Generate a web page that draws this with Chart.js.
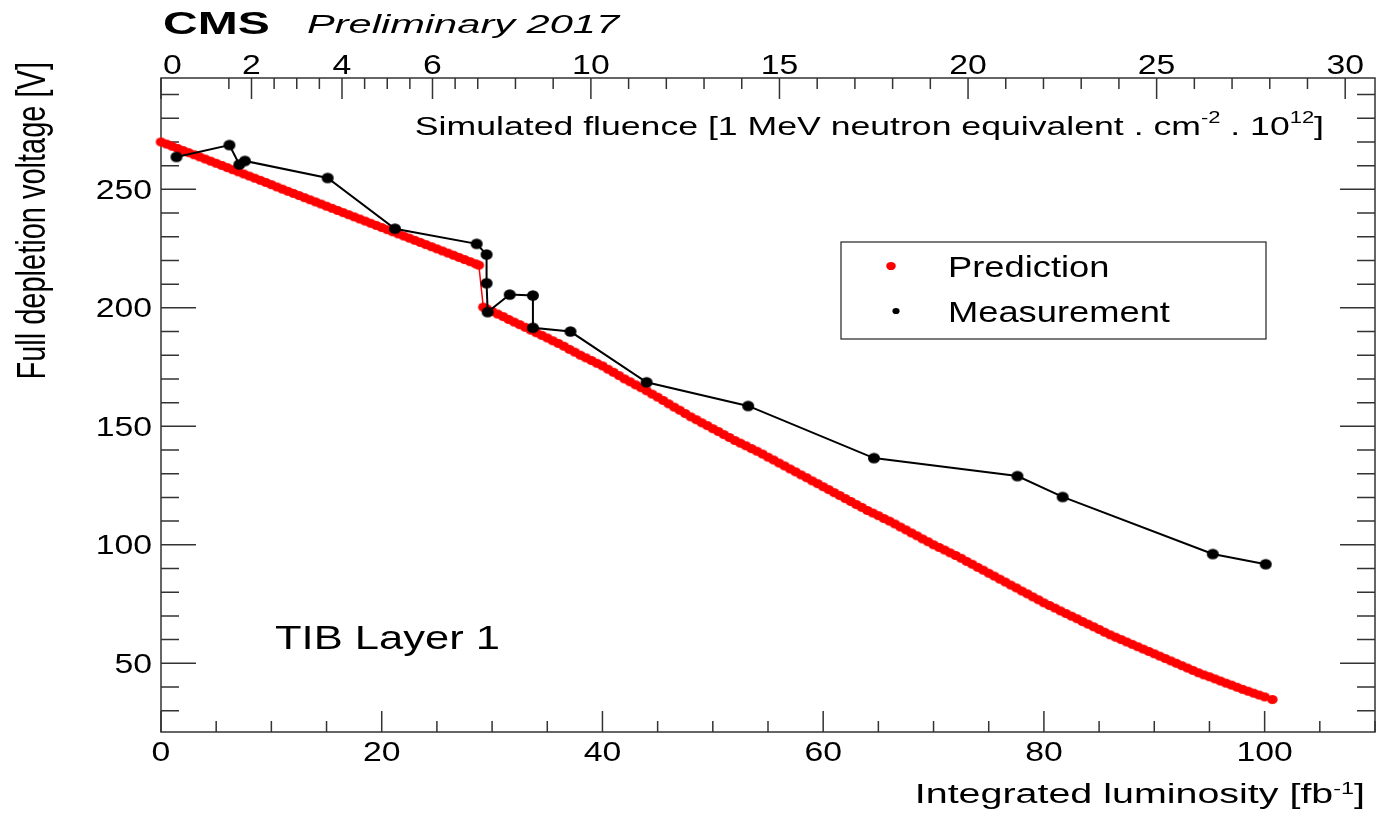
<!DOCTYPE html>
<html>
<head>
<meta charset="utf-8">
<script src="https://cdn.jsdelivr.net/npm/chart.js@4"></script>
<style>
  body { margin: 0; background: #fff; }
  #plot { display: block; width: 1381px; height: 813px; }
</style>
</head>
<body>
<canvas id="plot" width="1381" height="813"></canvas>
<script>
// Predicted full depletion voltage vs integrated luminosity (Run 1, then Run 2 after annealing)
const predLumi = [
  0.0, 0.5, 1.0, 1.5, 2.0, 2.5, 3.0, 3.5,
  4.0, 4.5, 5.0, 5.5, 6.0, 6.5, 7.0, 7.5,
  8.0, 8.5, 9.0, 9.5, 10.0, 10.5, 11.0, 11.5,
  12.0, 12.5, 13.0, 13.5, 14.0, 14.5, 15.0, 15.5,
  16.0, 16.5, 17.0, 17.5, 18.0, 18.5, 19.0, 19.5,
  20.0, 20.5, 21.0, 21.5, 22.0, 22.5, 23.0, 23.5,
  24.0, 24.5, 25.0, 25.5, 26.0, 26.5, 27.0, 27.5,
  28.0, 28.5, 28.8,
  29.2, 29.5,
  30.0, 30.5, 31.0, 31.5, 32.0, 32.5, 33.0, 33.5,
  34.0, 34.5, 35.0, 35.5, 36.0, 36.5, 37.0, 37.5,
  38.0, 38.5, 39.0, 39.5, 40.0, 40.5, 41.0, 41.5,
  42.0, 42.5, 43.0, 43.5, 44.0, 44.5, 45.0, 45.5,
  46.0, 46.5, 47.0, 47.5, 48.0, 48.5, 49.0, 49.5,
  50.0, 50.5, 51.0, 51.5, 52.0, 52.5, 53.0, 53.5,
  54.0, 54.5, 55.0, 55.5, 56.0, 56.5, 57.0, 57.5,
  58.0, 58.5, 59.0, 59.5, 60.0, 60.5, 61.0, 61.5,
  62.0, 62.5, 63.0, 63.5, 64.0, 64.5, 65.0, 65.5,
  66.0, 66.5, 67.0, 67.5, 68.0, 68.5, 69.0, 69.5,
  70.0, 70.5, 71.0, 71.5, 72.0, 72.5, 73.0, 73.5,
  74.0, 74.5, 75.0, 75.5, 76.0, 76.5, 77.0, 77.5,
  78.0, 78.5, 79.0, 79.5, 80.0, 80.5, 81.0, 81.5,
  82.0, 82.5, 83.0, 83.5, 84.0, 84.5, 85.0, 85.5,
  86.0, 86.5, 87.0, 87.5, 88.0, 88.5, 89.0, 89.5,
  90.0, 90.5, 91.0, 91.5, 92.0, 92.5, 93.0, 93.5,
  94.0, 94.5, 95.0, 95.5, 96.0, 96.5, 97.0, 97.5,
  98.0, 98.5, 99.0, 99.5,
  100.0, 100.7
];
const predVolt = [
  270.0, 269.1, 268.2, 267.3, 266.4, 265.5, 264.6, 263.7,
  262.8, 261.9, 261.0, 260.1, 259.2, 258.3, 257.4, 256.5,
  255.6, 254.7, 253.8, 252.9, 252.0, 251.0, 250.1, 249.2,
  248.3, 247.4, 246.5, 245.6, 244.7, 243.8, 242.9, 242.0,
  241.1, 240.2, 239.3, 238.4, 237.5, 236.6, 235.7, 234.8,
  233.9, 233.0, 232.1, 231.2, 230.3, 229.4, 228.5, 227.6,
  226.7, 225.8, 224.9, 224.0, 223.1, 222.2, 221.3, 220.4,
  219.5, 218.6, 218.0,
  200.3, 199.6,
  198.5, 197.4, 196.3, 195.1, 194.0, 192.9, 191.8, 190.6,
  189.5, 188.4, 187.3, 186.1, 185.0, 183.8, 182.5, 181.3,
  180.0, 178.9, 177.8, 176.6, 175.5, 174.1, 172.8, 171.4,
  170.0, 168.8, 167.5, 166.3, 165.0, 163.6, 162.3, 160.9,
  159.5, 158.1, 156.8, 155.4, 154.0, 152.8, 151.5, 150.3,
  149.0, 147.8, 146.5, 145.3, 144.0, 142.9, 141.8, 140.6,
  139.5, 138.3, 137.0, 135.8, 134.5, 133.3, 132.0, 130.8,
  129.5, 128.3, 127.0, 125.8, 124.5, 123.3, 122.0, 120.8,
  119.5, 118.3, 117.0, 115.8, 114.5, 113.4, 112.3, 111.1,
  110.0, 108.8, 107.5, 106.3, 105.0, 103.8, 102.5, 101.3,
  100.0, 98.9, 97.8, 96.6, 95.5, 94.3, 93.0, 91.8,
  90.5, 89.3, 88.0, 86.8, 85.5, 84.3, 83.0, 81.8,
  80.5, 79.3, 78.0, 76.8, 75.5, 74.4, 73.3, 72.1,
  71.0, 69.9, 68.8, 67.6, 66.5, 65.4, 64.3, 63.1,
  62.0, 61.0, 60.0, 59.0, 58.0, 57.0, 56.0, 55.0,
  54.0, 53.0, 52.0, 51.0, 50.0, 49.0, 48.0, 47.0,
  46.0, 45.1, 44.3, 43.4, 42.5, 41.6, 40.8, 39.9,
  39.0, 38.2, 37.4, 36.6,
  35.8, 34.7
];

// Measured full depletion voltage
const measLumi = [1.4, 6.2, 7.1, 7.6, 15.1, 21.2, 28.6, 29.5, 29.5, 29.6, 31.6, 33.7, 33.7, 37.1, 44.0, 53.2, 64.6, 77.6, 81.7, 95.3, 100.1];
const measVolt = [263.7, 268.7, 260.5, 262.0, 254.8, 233.4, 227.0, 222.5, 210.4, 198.2, 205.6, 205.2, 191.6, 190.0, 168.6, 158.6, 136.6, 129.0, 120.2, 96.1, 91.8];

// Axis ticks
const lumiTicks = [0, 20, 40, 60, 80, 100];
const voltTicks = [50, 100, 150, 200, 250];
const fluenceLabels = [0, 2, 4, 6, 10, 15, 20, 25, 30];
const fluenceMinor = [1.5, 2.5, 3, 3.5, 4.5, 5, 5.5, 6.5, 7, 8, 9, 11, 12, 13, 14, 16, 17, 18, 19, 21, 22, 23, 24, 26, 27, 28, 29];
// fluence -> luminosity (Run 1 / Run 2 segments)
const fluenceKnots = [0, 7, 30];
const lumiKnots = [0, 28.7, 107.3];

const FONT = '"Liberation Sans", Arial, Helvetica, sans-serif';

function fluenceToLumi(f) {
  for (let i = 1; i < fluenceKnots.length; i++) {
    if (f <= fluenceKnots[i] || i === fluenceKnots.length - 1) {
      const t = (f - fluenceKnots[i - 1]) / (fluenceKnots[i] - fluenceKnots[i - 1]);
      return lumiKnots[i - 1] + t * (lumiKnots[i] - lumiKnots[i - 1]);
    }
  }
}

function ellipseMarker(color, w, h) {
  const c = document.createElement('canvas');
  c.width = Math.ceil(w) + 2;
  c.height = Math.ceil(h) + 2;
  const g = c.getContext('2d');
  g.fillStyle = color;
  g.beginPath();
  g.ellipse(c.width / 2, c.height / 2, w / 2, h / 2, 0, 0, Math.PI * 2);
  g.fill();
  return c;
}

// text drawn wider than the font's natural width
function drawText(ctx, parts, x, y, sx, align) {
  ctx.save();
  let total = 0;
  parts.forEach(p => { ctx.font = p.font; total += ctx.measureText(p.text).width * sx; });
  let cx = align === 'center' ? x - total / 2 : align === 'right' ? x - total : x;
  ctx.fillStyle = '#000';
  ctx.textAlign = 'left';
  ctx.textBaseline = 'alphabetic';
  parts.forEach(p => {
    ctx.font = p.font;
    const w = ctx.measureText(p.text).width * sx;
    ctx.save();
    ctx.translate(cx, y - (p.rise || 0));
    ctx.scale(sx, 1);
    ctx.fillText(p.text, 0, 0);
    ctx.restore();
    cx += w;
  });
  ctx.restore();
}

const numFont = '27px ' + FONT;
const numStretch = 1.25;

const frameAndTicks = {
  id: 'frameAndTicks',
  beforeDatasetsDraw(chart) {
    const ctx = chart.ctx;
    const a = chart.chartArea;
    const xs = chart.scales.x, ys = chart.scales.y;
    ctx.save();
    ctx.strokeStyle = '#333';
    ctx.lineWidth = 1.5;
    ctx.strokeRect(a.left, a.top, a.right - a.left, a.bottom - a.top);
    ctx.beginPath();
    // bottom axis, inner ticks
    for (let v = 0; v <= 110; v += 5) {
      const px = xs.getPixelForValue(v);
      const len = lumiTicks.includes(v) ? 21 : 11;
      ctx.moveTo(px, a.bottom); ctx.lineTo(px, a.bottom - len);
    }
    // left and right axes
    for (let v = 30; v <= 290; v += 10) {
      const py = ys.getPixelForValue(v);
      const len = voltTicks.includes(v) ? 35 : 18;
      ctx.moveTo(a.left, py); ctx.lineTo(a.left + len, py);
      ctx.moveTo(a.right, py); ctx.lineTo(a.right - len, py);
    }
    // top fluence axis
    fluenceLabels.forEach(f => {
      const px = xs.getPixelForValue(fluenceToLumi(f));
      ctx.moveTo(px, a.top); ctx.lineTo(px, a.top + 21);
    });
    fluenceMinor.forEach(f => {
      const px = xs.getPixelForValue(fluenceToLumi(f));
      ctx.moveTo(px, a.top); ctx.lineTo(px, a.top + 11);
    });
    ctx.stroke();
    ctx.restore();
  },
  afterDraw(chart) {
    const ctx = chart.ctx;
    const a = chart.chartArea;
    const xs = chart.scales.x, ys = chart.scales.y;

    lumiTicks.forEach(v => {
      drawText(ctx, [{ text: String(v), font: numFont }], xs.getPixelForValue(v), a.bottom + 29, numStretch, 'center');
    });
    voltTicks.forEach(v => {
      drawText(ctx, [{ text: String(v), font: numFont }], a.left - 9, ys.getPixelForValue(v) + 9.5, numStretch, 'right');
    });
    fluenceLabels.forEach((f, i) => {
      const px = xs.getPixelForValue(fluenceToLumi(f));
      drawText(ctx, [{ text: String(f), font: numFont }], i === 0 ? px + 2 : px, 74, numStretch, i === 0 ? 'left' : 'center');
    });

    // header
    drawText(ctx, [{ text: 'CMS', font: 'bold 31px ' + FONT }], 163, 34, 1.55, 'left');
    drawText(ctx, [{ text: 'Preliminary 2017', font: 'italic 26px ' + FONT }], 307, 33, 1.6, 'left');

    // axis titles
    const sup = '16px ' + FONT;
    drawText(ctx, [
      { text: 'Integrated luminosity [fb', font: '27px ' + FONT },
      { text: '-1', font: sup, rise: 9 },
      { text: ']', font: '27px ' + FONT }
    ], 1365, 803, 1.46, 'right');

    drawText(ctx, [
      { text: 'Simulated fluence [1 MeV neutron equivalent . cm', font: '26px ' + FONT },
      { text: '-2', font: sup, rise: 12 },
      { text: ' . 10', font: '26px ' + FONT },
      { text: '12', font: sup, rise: 12 },
      { text: ']', font: '26px ' + FONT }
    ], 1324, 135, 1.37, 'right');

    ctx.save();
    ctx.translate(45, 62);
    ctx.rotate(-Math.PI / 2);
    ctx.scale(1, 1.39);
    ctx.font = '29px ' + FONT;
    ctx.fillStyle = '#000';
    ctx.textAlign = 'right';
    ctx.fillText('Full depletion voltage [V]', 0, 0);
    ctx.restore();

    drawText(ctx, [{ text: 'TIB Layer 1', font: '34px ' + FONT }], 275, 649, 1.28, 'left');

    // legend box
    ctx.save();
    ctx.strokeStyle = '#222';
    ctx.lineWidth = 1.2;
    ctx.fillStyle = '#fff';
    ctx.fillRect(841, 242, 425, 97);
    ctx.strokeRect(841, 242, 425, 97);
    ctx.fillStyle = '#ff0000';
    ctx.beginPath(); ctx.ellipse(891, 266, 4.8, 4.1, 0, 0, Math.PI * 2); ctx.fill();
    ctx.fillStyle = '#000';
    ctx.beginPath(); ctx.ellipse(896, 311, 3.6, 3.1, 0, 0, Math.PI * 2); ctx.fill();
    ctx.restore();
    const ds = chart.data.datasets;
    drawText(ctx, [{ text: ds[0].label, font: '30px ' + FONT }], 948, 277, 1.21, 'left');
    drawText(ctx, [{ text: ds[1].label, font: '30px ' + FONT }], 948, 322, 1.21, 'left');
  }
};

const ctx = document.getElementById('plot').getContext('2d');
new Chart(ctx, {
  type: 'scatter',
  data: {
    datasets: [
      {
        label: 'Prediction',
        data: predLumi.map((x, i) => ({ x: x, y: predVolt[i] })),
        showLine: true,
        borderColor: '#ff0000',
        borderWidth: 1.5,
        pointStyle: ellipseMarker('#ff0000', 10.5, 9),
        tension: 0,
        clip: false,
        order: 2
      },
      {
        label: 'Measurement',
        data: measLumi.map((x, i) => ({ x: x, y: measVolt[i] })),
        showLine: true,
        borderColor: '#000',
        borderWidth: 2,
        pointStyle: ellipseMarker('#000', 12, 10.5),
        tension: 0,
        clip: false,
        order: 1
      }
    ]
  },
  options: {
    responsive: false,
    animation: false,
    events: [],
    layout: { padding: { left: 161, right: 1, top: 78, bottom: 81 } },
    scales: {
      x: { type: 'linear', min: 0, max: 110, display: false },
      y: { type: 'linear', min: 21, max: 297, display: false }
    },
    plugins: {
      legend: { display: false },
      tooltip: { enabled: false }
    }
  },
  plugins: [frameAndTicks]
});
</script>
</body>
</html>
